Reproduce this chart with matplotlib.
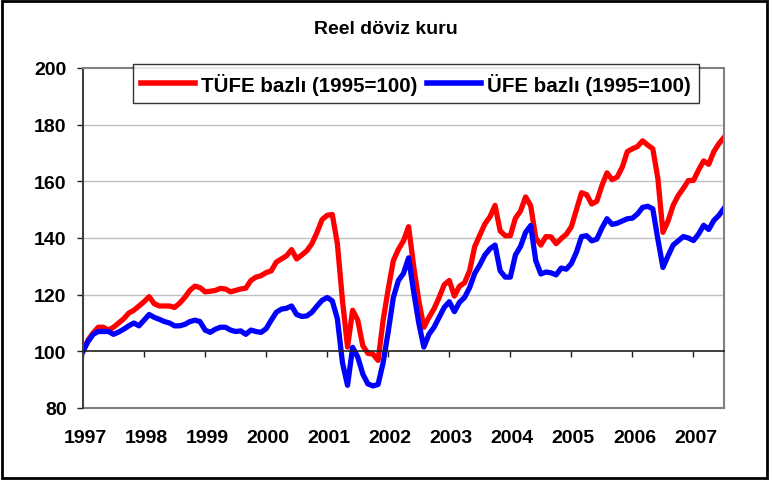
import numpy as np
import matplotlib
matplotlib.use("Agg")
import matplotlib.pyplot as plt
from matplotlib.patches import Rectangle

plt.rcParams['font.family'] = ['Liberation Sans', 'DejaVu Sans']

# monthly data, Jan 1997 .. Jul 2007 (1995=100)
tufe = [100, 104, 106.5, 108.5, 108.5, 107.5, 108.5, 110, 111.5, 113.5, 114.5, 116,
        117.5, 119.3, 116.8, 116, 116, 116, 115.5, 117, 119, 121.5, 123, 122.5,
        121, 121.2, 121.5, 122.2, 122, 121, 121.5, 122, 122.3, 125, 126.2, 126.7,
        127.8, 128.4, 131.5, 132.6, 133.7, 135.9, 132.6, 134, 135.5, 138, 142, 146.5,
        148, 148.3, 138, 118, 101.5, 114.5, 111, 102, 99.3, 99, 96.8, 111,
        122, 132, 136, 139, 144, 130, 118, 108.5, 112, 115, 119, 123.5,
        125, 119.5, 123, 124.2, 128.5, 137, 141, 145, 147.5, 151.5, 142.5, 140.8,
        140.8, 147, 149.5, 154.5, 151.4, 140, 137.5, 140.5, 140.4, 138, 139.8, 141.3,
        144, 150, 156, 155.3, 152, 153, 158.5, 163, 160.6, 161.5, 165, 170.5,
        171.5, 172.3, 174.3, 172.8, 171.5, 161, 142, 146, 151.5, 155, 157.5, 160.3,
        160.3, 164, 167.2, 166, 170.5, 173.3, 175.5]

ufe = [100, 103.5, 106, 107, 107, 107, 106, 106.8, 107.8, 109, 110, 109,
       111, 113, 112, 111.3, 110.5, 110, 109, 109, 109.5, 110.5, 111, 110.5,
       107.5, 106.7, 107.8, 108.5, 108.5, 107.5, 107, 107.2, 106, 107.5, 107, 106.7,
       108, 111, 113.8, 114.9, 115.2, 116, 113, 112.3, 112.5, 113.8, 116, 118,
       119, 117.8, 111.5, 96, 88, 101.4, 98, 92, 88.5, 87.8, 88.3, 96,
       107, 119, 125, 127.5, 133, 121, 110, 101.5, 106, 108.5, 112, 115.5,
       117.5, 114, 117.3, 119, 122.5, 127.5, 130.5, 134, 136.2, 137.5, 128.4, 126.2,
       126.2, 134, 137, 142, 144.4, 132, 127.3, 128, 127.7, 127, 129.4, 129,
       131, 135, 140.5, 140.8, 139, 139.6, 143.5, 146.8, 144.8, 145.2, 146, 146.8,
       147, 148.5, 150.8, 151.2, 150.3, 139.6, 129.6, 133.7, 137.5, 139, 140.5, 140,
       139.1, 141.4, 144.5, 143, 146.2, 148, 150.5]

years = [str(y) for y in range(1997, 2008)]
months = np.arange(len(tufe))

fig = plt.figure(figsize=(7.72, 4.81), dpi=100)
ax = fig.add_axes([83 / 772, 1 - 409 / 481, (724 - 83) / 772, (409 - 69) / 481])

ax.plot(months, tufe, color='#ff0000', lw=3.8, label='TÜFE bazlı (1995=100)', solid_joinstyle='round')
ax.plot(months, ufe, color='#0000ff', lw=3.8, label='ÜFE bazlı (1995=100)', solid_joinstyle='round')

ax.set_xlim(0, len(tufe) - 1)
ax.set_ylim(80, 200)
ax.set_yticks(range(80, 201, 20))
for v in range(120, 200, 20):
    ax.axhline(v, color='#c0c0c0', lw=1, zorder=0)

# x axis crosses at 100, labels stay at the bottom
ax.spines['bottom'].set_position(('data', 100))
ax.spines['bottom'].set_color('#202020')
ax.spines['bottom'].set_linewidth(1.2)
ax.spines['left'].set_color('#404040')
ax.spines['left'].set_linewidth(1.5)
for s in ['top', 'right']:
    ax.spines[s].set_color('#808080')
    ax.spines[s].set_linewidth(1.5)

ax.set_xticks(np.arange(0, len(tufe), 12)[:len(years)])
ax.tick_params(axis='x', direction='out', length=4.3, width=1, color='#202020', labelbottom=False)
ax.tick_params(axis='y', direction='out', length=4.3, width=1, color='#202020', pad=7.5,
               labelsize=14)
for lab in ax.get_yticklabels():
    lab.set_fontweight('bold')

sec = ax.secondary_xaxis(0)
sec.set_xticks(np.arange(0, len(tufe), 12)[:len(years)] + 0.4, years)
sec.tick_params(length=0, pad=15, labelsize=14)
sec.spines['bottom'].set_color('#808080')
sec.spines['bottom'].set_linewidth(1.5)
for lab in sec.get_xticklabels():
    lab.set_fontweight('bold')

fig.text(0.5, 1 - 30 / 481, 'Reel döviz kuru', ha='center', va='center',
         fontsize=14, fontweight='bold')

leg = ax.legend(loc='center', bbox_to_anchor=(416 / 772, 1 - 84.5 / 481),
                bbox_transform=fig.transFigure, ncol=2, frameon=True, fancybox=False,
                prop={'weight': 'bold', 'size': 14.8}, handlelength=2.6,
                handletextpad=0.3, columnspacing=0.5, borderpad=0.4)
leg.get_frame().set_edgecolor('black')
leg.get_frame().set_linewidth(1)
for h in leg.get_lines():
    h.set_linewidth(4)

fig.patches.append(Rectangle((0.002, 0.004), 0.991, 0.992, transform=fig.transFigure,
                             fill=False, edgecolor='black', lw=2))

fig.savefig('out.png', dpi=100)
